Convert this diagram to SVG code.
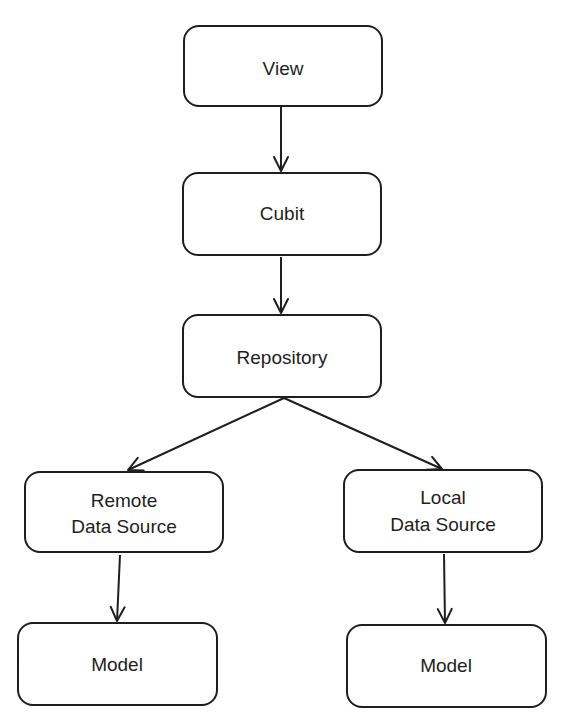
<svg xmlns="http://www.w3.org/2000/svg" width="569" height="724" viewBox="0 0 569 724">
<style>
.box{fill:#fff;stroke:#1e1e1e;stroke-width:2}
.lbl{font-family:"Liberation Sans",Arial,sans-serif;font-size:19px;fill:#1e1e1e;text-anchor:middle;dominant-baseline:central}
.edge{stroke:#1e1e1e;stroke-width:2;fill:none;marker-end:url(#ah)}
</style>
<defs>
<marker id="ah" viewBox="0 0 20 20" refX="18" refY="10" markerWidth="20" markerHeight="20" markerUnits="userSpaceOnUse" orient="auto">
<path d="M4 3 L18 10 L4 17" fill="none" stroke="#1e1e1e" stroke-width="2" stroke-linecap="round" stroke-linejoin="round"/>
</marker>
</defs>
<rect width="569" height="724" fill="#fff"/>
<g id="edges">
<line class="edge" x1="281" y1="107" x2="281" y2="171"/>
<line class="edge" x1="281" y1="257" x2="281" y2="313"/>
<line class="edge" x1="284" y1="398" x2="128" y2="470"/>
<line class="edge" x1="284" y1="398" x2="442" y2="469"/>
<line class="edge" x1="120" y1="555" x2="117" y2="621"/>
<line class="edge" x1="444" y1="554" x2="445" y2="623"/>
</g>
<g id="view"><rect class="box" x="184" y="26" width="198" height="80" rx="15"/><text class="lbl" x="283" y="68">View</text></g>
<g id="cubit"><rect class="box" x="183" y="173" width="198" height="82" rx="15"/><text class="lbl" x="282" y="213">Cubit</text></g>
<g id="repository"><rect class="box" x="183" y="315" width="198" height="82" rx="15"/><text class="lbl" x="282" y="357">Repository</text></g>
<g id="remote"><rect class="box" x="25" y="472" width="198" height="80" rx="15"/><text class="lbl" x="124" y="500">Remote</text><text class="lbl" x="124" y="526">Data Source</text></g>
<g id="local"><rect class="box" x="344" y="470" width="198" height="82" rx="15"/><text class="lbl" x="443" y="497">Local</text><text class="lbl" x="443" y="524">Data Source</text></g>
<g id="model-remote"><rect class="box" x="18" y="623" width="199" height="82" rx="15"/><text class="lbl" x="117" y="664">Model</text></g>
<g id="model-local"><rect class="box" x="347" y="625" width="199" height="82" rx="15"/><text class="lbl" x="446" y="665">Model</text></g>
</svg>
